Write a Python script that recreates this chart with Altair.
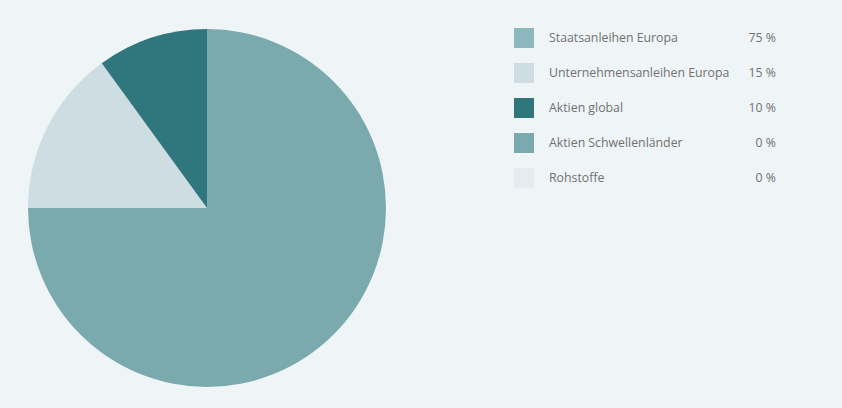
import altair as alt
import pandas as pd

# Portfolio allocation
categories = [
    "Staatsanleihen Europa",
    "Unternehmensanleihen Europa",
    "Aktien global",
    "Aktien Schwellenländer",
    "Rohstoffe",
]
shares = [75, 15, 10, 0, 0]
slice_colors = ["#7aa9ae", "#cddde2", "#30777d", "#7aa9ae", "#e4ecef"]
swatch_colors = ["#8cb7bc", "#cddde2", "#30777d", "#7aa9ae", "#e4ecef"]

df = pd.DataFrame({
    "category": categories,
    "share": shares,
    "order": list(range(len(categories))),
    "slice_color": slice_colors,
    "swatch_color": swatch_colors,
    "label": [f"{v} %" for v in shares],
})

BG = "#eff4f7"
TEXT = "#717171"
FONT = "Open Sans"
FONT_SIZE = 12.3

pie = alt.Chart(df).mark_arc(outerRadius=179).encode(
    theta=alt.Theta("share:Q", stack=True),
    order=alt.Order("order:Q"),
    color=alt.Color("slice_color:N", scale=None),
    x=alt.value(207),
    y=alt.value(208),
)

row = alt.Y(
    "category:N",
    sort=categories,
    scale=alt.Scale(type="point", range=[38, 178], padding=0),
    axis=None,
)

swatches = alt.Chart(df).mark_square(size=400, opacity=1).encode(
    y=row,
    x=alt.value(524),
    color=alt.Color("swatch_color:N", scale=None),
)

names = alt.Chart(df).mark_text(
    align="left", baseline="middle", font=FONT, fontSize=FONT_SIZE, color=TEXT
).encode(
    y=row,
    x=alt.value(549),
    text="category:N",
)

values = alt.Chart(df).mark_text(
    align="right", baseline="middle", font=FONT, fontSize=FONT_SIZE, color=TEXT
).encode(
    y=row,
    x=alt.value(776),
    text="label:N",
)

chart = alt.layer(pie, swatches, names, values).properties(
    width=842,
    height=408,
    padding=0,
    autosize=alt.AutoSizeParams(type="none"),
    background=BG,
).configure_view(stroke=None)

chart.save("out.html", embed_options={"renderer": "svg", "actions": False})
